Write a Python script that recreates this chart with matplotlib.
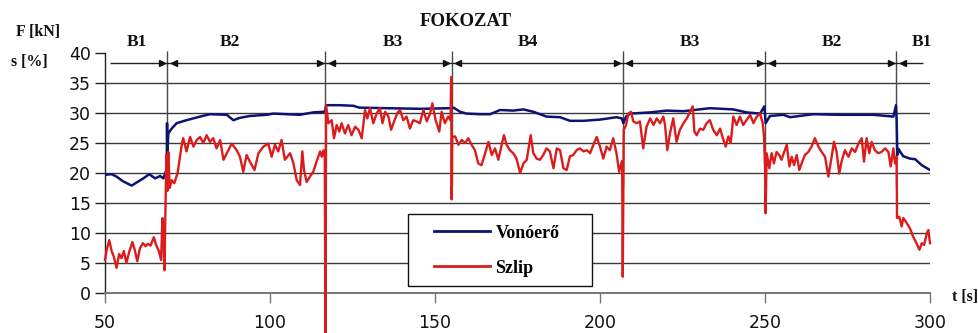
import matplotlib
matplotlib.use("Agg")
import matplotlib.pyplot as plt
from matplotlib.lines import Line2D
from matplotlib.patches import Rectangle

# ---------------- data ----------------
t_force = [50.0, 52.0, 53.5, 55.5, 58.1, 60.1, 61.6, 63.4, 65.2, 66.7, 67.7, 68.4, 68.7,
           68.8, 68.9, 69.2, 70.2, 71.7, 74.7, 78.8, 81.8, 86.9, 88.9, 90.9, 93.9, 99.0,
           101.0, 105.0, 109.0, 113.1, 116.2, 116.7, 117.0, 121.2, 125.3, 127.0, 135.4,
           145.5, 154.5, 155.6, 157.6, 159.6, 163.6, 166.7, 169.7, 173.7, 176.8, 179.8,
           183.8, 187.9, 190.9, 195.0, 200.0, 205.0, 206.6, 207.1, 207.9, 209.1, 215.2,
           220.2, 225.3, 233.3, 240.4, 244.4, 248.5, 249.8, 250.2, 251.5, 255.6, 257.6,
           264.6, 272.7, 282.8, 288.9, 289.7, 289.9, 290.1, 290.5, 290.9, 291.9, 293.9,
           295.5, 297.5, 300.0]
force = [19.7, 19.8, 19.4, 18.6, 17.9, 18.6, 19.1, 19.8, 19.1, 19.5, 19.1, 20.2, 20.0,
         28.3, 23.5, 26.6, 27.4, 28.3, 28.8, 29.4, 29.8, 29.7, 28.8, 29.2, 29.5, 29.7,
         29.9, 29.8, 29.7, 30.1, 30.2, 30.3, 31.3, 31.3, 31.2, 30.9, 30.8,
         30.7, 30.8, 30.9, 30.2, 29.9, 29.8, 29.8, 30.5, 30.4, 30.6, 30.2,
         29.4, 29.3, 28.7, 28.7, 28.9, 29.3, 29.1, 28.3, 29.4, 29.9, 30.1,
         30.4, 30.3, 30.8, 30.6, 30.1, 29.9, 31.1, 28.3, 29.5, 29.7, 29.3,
         29.8, 29.7, 29.7, 29.4, 31.3, 28.8, 23.0, 24.0, 23.6, 22.8, 22.4,
         22.3, 21.3, 20.5]

t_slip = [50.0, 50.5, 51.3, 52.0, 52.7, 53.5, 54.3, 55.0, 55.7, 56.5, 57.3, 58.3, 59.0,
          59.8, 60.6, 61.5, 62.3, 63.0, 63.8, 64.8, 65.5, 66.3, 67.0, 67.4, 67.7, 68.0,
          68.6, 68.9, 69.2, 69.6, 70.2, 71.0, 72.0, 72.7, 73.2,
          73.7, 74.7, 75.8, 76.8, 77.8, 78.8, 79.8, 80.8, 81.8, 82.8, 83.8, 84.9, 85.9,
          87.4, 88.4, 89.9, 90.9, 91.9, 92.9, 93.9, 95.3, 96.5, 98.0, 99.5, 100.5, 101.5,
          102.5, 103.5, 104.5, 106.1, 107.1, 108.1, 109.1, 109.8, 110.3, 111.1, 112.1,
          113.1, 114.1, 115.2, 115.7, 116.2, 116.6, 116.8, 117.0,
          117.7, 118.7, 119.4, 120.2, 121.0, 121.7, 122.7, 123.7, 124.7, 125.8, 126.8,
          127.8, 128.8, 129.5, 130.3, 131.3, 132.3, 133.3, 134.1, 134.9, 135.9, 136.7,
          137.6, 138.6, 139.4, 140.4, 141.4, 142.4, 143.4, 144.4, 145.4, 146.5, 147.5,
          148.5, 149.2, 150.2, 151.3, 152.0, 153.0, 154.0, 154.7, 154.9, 155.05, 155.2,
          156.1, 157.1, 158.1, 159.1, 160.1, 161.1, 162.1, 163.1, 164.1, 165.2, 166.2,
          167.2, 168.2, 169.2, 170.2, 170.9, 171.7, 172.7, 173.7, 174.7, 175.8, 176.8,
          177.8, 179.0, 179.8, 180.8, 181.8, 182.8, 183.8, 184.8, 185.9, 186.9, 187.9,
          188.9, 189.9, 190.9, 191.9, 192.9, 193.9, 195.0, 196.0, 197.0, 198.0, 199.0,
          200.0, 201.0, 202.0, 203.0, 204.0, 205.0, 205.8, 206.3, 206.7, 206.9, 207.2,
          207.9, 208.6, 209.4, 210.1, 211.1, 212.1, 213.1, 214.1, 215.2, 216.2, 217.2,
          218.2, 219.2, 219.7, 220.4, 221.2, 222.2, 223.2, 224.2, 225.3, 226.3, 227.3,
          228.1, 228.6, 229.3, 230.3, 231.3, 232.3, 233.3, 234.3, 235.4, 236.4, 237.4,
          238.1, 238.9, 239.6, 240.4, 241.4, 242.4, 243.4, 244.4, 245.5, 246.5, 247.5,
          248.5, 249.3, 249.7, 250.0, 250.2,
          250.5, 251.3, 252.0, 252.7, 253.5, 254.3, 255.0, 255.8, 256.6, 257.4, 258.1,
          258.8, 259.6, 260.4, 261.1, 262.1, 263.1, 264.1, 265.1, 266.2, 267.2, 268.2,
          269.2, 270.2, 270.9, 271.7, 272.5, 273.2, 274.2, 275.3, 276.3, 277.3, 278.3,
          279.3, 280.0, 280.8, 281.6, 282.3, 283.3, 284.3, 285.3, 286.4, 287.4, 288.1,
          288.9, 289.4, 289.9, 290.0,
          290.7, 291.4, 291.9, 292.9, 293.9, 294.9, 295.9, 296.8, 297.5, 298.2, 299.0,
          299.5, 300.0]
slip = [5.5, 7.2, 8.8, 7.0, 6.0, 4.2, 6.5, 5.8, 7.0, 5.0, 6.8, 8.5, 7.2,
        5.3, 7.5, 8.3, 7.8, 8.2, 7.9, 9.3, 8.0, 7.0, 5.5, 12.5, 10.0, 3.8,
        23.0, 17.0, 23.5, 17.5, 18.8, 18.3, 20.0, 22.7, 24.5,
        25.8, 23.6, 26.0, 24.4, 25.5, 26.0, 25.0, 26.3, 25.2, 25.8, 24.1, 25.5, 22.2,
        23.8, 24.9, 23.8, 22.7, 20.2, 23.0, 21.9, 20.5, 23.3, 24.4, 24.9, 22.7, 24.7,
        23.6, 25.5, 22.2, 23.3, 21.6, 18.8, 18.0, 23.6, 20.5, 18.5, 19.4,
        20.2, 21.9, 23.6, 22.7, 23.8, 22.7, -7.0, 31.3,
        28.3, 28.8, 25.8, 28.0, 26.9, 28.3, 26.6, 28.0, 26.3, 27.7, 27.2,
        25.8, 30.5, 29.1, 30.8, 28.3, 29.9, 30.8, 28.3, 30.2, 29.4, 27.2,
        28.6, 30.0, 30.5, 28.8, 29.4, 27.4, 28.8, 28.6, 28.3, 30.5, 28.6,
        29.9, 31.6, 28.8, 26.9, 30.2, 28.3, 29.4, 28.8, 36.0, 15.6, 26.0,
        26.1, 24.7, 25.5, 25.0, 25.8, 24.7, 23.8, 21.6, 21.3, 23.3, 25.2,
        23.0, 24.1, 22.2, 24.7, 26.3, 24.7, 23.8, 23.3, 22.4, 20.0, 21.6,
        22.2, 26.3, 23.3, 22.4, 22.2, 23.0, 24.1, 23.6, 20.8, 24.1, 23.8,
        20.8, 20.5, 22.8, 23.0, 23.8, 24.1, 23.6, 23.8, 23.3, 24.7, 26.0,
        24.4, 22.4, 24.4, 23.8, 25.8, 23.3, 20.2, 21.3, 22.0, 2.7, 27.2,
        28.0, 29.9, 30.2, 28.6, 28.3, 28.6, 24.1, 27.7, 29.1, 28.0, 29.1,
        28.3, 29.4, 28.0, 23.8, 26.6, 29.1, 25.2, 27.2, 28.3, 29.1, 30.2,
        31.1, 26.9, 26.3, 27.4, 27.2, 28.3, 28.8, 27.2, 26.3, 27.4, 25.5,
        24.4, 26.1, 25.0, 29.4, 28.0, 29.4, 28.0, 28.8, 29.7, 28.3, 29.4,
        29.9, 28.3, 26.1, 21.0, 13.3,
        23.3, 20.8, 23.3, 21.6, 23.5, 23.0, 22.2, 23.5, 24.7, 21.1, 22.7,
        21.3, 23.0, 20.5, 21.6, 23.0, 23.5, 24.4, 25.8, 24.4, 23.5, 22.7,
        19.4, 22.7, 25.2, 23.5, 19.9, 21.9, 23.8, 22.7, 24.1, 23.5, 24.9,
        25.8, 21.9, 25.8, 23.3, 25.2, 23.8, 23.3, 23.5, 24.1, 23.5, 21.1,
        24.1, 21.6, 22.7, 12.5,
        12.7, 11.1, 12.5, 11.7, 10.8, 9.4, 8.3, 7.2, 8.3, 8.0, 9.9,
        10.5, 8.3]

gear_changes = [68.8, 116.7, 155.0, 206.9, 250.1, 289.8]
gear_labels = ["B1", "B2", "B3", "B4", "B3", "B2", "B1"]
gear_label_x = [59.7, 87.9, 137.3, 178.2, 227.3, 270.3, 297.6]
x_ticks = [50, 100, 150, 200, 250, 300]
y_ticks = [0, 5, 10, 15, 20, 25, 30, 35, 40]
legend_labels = ["Vonóerő", "Szlip"]

BLUE = "#0b1470"
RED = "#dc1c1c"
SERIF = ["Liberation Serif", "DejaVu Serif"]

# ---------------- figure ----------------
fig = plt.figure(figsize=(9.79, 3.33), dpi=100)
ax = fig.add_axes([105 / 979, 40 / 333, 825 / 979, 240 / 333])
ax.set_xlim(50, 300)
ax.set_ylim(0, 40)

# grid lines
ax.hlines(y_ticks[1:-1], 50, 300, colors="#3a3a3a", linewidth=1.0, zorder=1)

# gear change markers
ax.vlines(gear_changes, 18, 40.3, colors="#4a4a4a", linewidth=1.0, zorder=1.5, clip_on=False)
arrow_y = 38.3
ax.hlines(arrow_y, 51.5, 297.9, colors="#222222", linewidth=1.0, zorder=2, clip_on=False)
for g in gear_changes:
    ax.plot([g - 1.6], [arrow_y], marker=">", color="#111111", markersize=4.5, zorder=3, clip_on=False)
    ax.plot([g + 2.0], [arrow_y], marker="<", color="#111111", markersize=4.5, zorder=3, clip_on=False)
for lab, xl in zip(gear_labels, gear_label_x):
    ax.text(xl, 41.75, lab, ha="center", va="center", fontsize=12.5,
            fontweight="bold", family=SERIF, color="#111111", clip_on=False)

# series
ax.plot(t_force, force, color=BLUE, linewidth=1.8, zorder=4)
ax.plot(t_slip, slip, color=RED, linewidth=1.7, zorder=5, clip_on=False)

# axes styling
for s in ["top", "right"]:
    ax.spines[s].set_visible(False)
ax.spines["left"].set_color("#222222")
ax.spines["left"].set_linewidth(1.0)
ax.spines["bottom"].set_color("#777777")
ax.spines["bottom"].set_linewidth(1.4)
ax.set_xticks(x_ticks)
ax.set_yticks(y_ticks)
ax.tick_params(axis="x", direction="out", length=7, width=1.0, pad=8,
               labelsize=12.5, colors="#777777", labelcolor="#111111")
ax.tick_params(axis="y", direction="out", length=7, width=1.0, pad=3,
               labelsize=12.5, colors="#222222", labelcolor="#111111")
for lab in ax.get_xticklabels() + ax.get_yticklabels():
    lab.set_family("DejaVu Sans")

# titles / axis labels
fig.text(466 / 979, 1 - 22 / 333, "FOKOZAT", ha="center", va="center",
         fontsize=13.5, fontweight="bold", family=SERIF, color="#111111")
fig.text(38 / 979, 1 - 32 / 333, "F [kN]", ha="center", va="center",
         fontsize=11.5, fontweight="bold", family=SERIF, color="#111111")
fig.text(29 / 979, 1 - 62 / 333, "s [%]", ha="center", va="center",
         fontsize=11.5, fontweight="bold", family=SERIF, color="#111111")
fig.text(965 / 979, 1 - 297 / 333, "t [s]", ha="center", va="center",
         fontsize=11.5, fontweight="bold", family=SERIF, color="#111111")

# legend
ax.add_patch(Rectangle((141.8, 1.2), 55.8, 12.0, facecolor="white",
                       edgecolor="#111111", linewidth=1.0, zorder=6))
handles = [Line2D([], [], color=BLUE, linewidth=2.0),
           Line2D([], [], color=RED, linewidth=2.0)]
leg = ax.legend(handles, legend_labels, loc="upper left",
                bbox_to_anchor=(147.0, 12.9), bbox_transform=ax.transData,
                frameon=False, borderpad=0.0, handlelength=3.1, handletextpad=0.3,
                labelspacing=1.0, prop={"family": SERIF, "weight": "bold", "size": 13})
leg.set_zorder(7)

fig.savefig("out.png", dpi=100)
